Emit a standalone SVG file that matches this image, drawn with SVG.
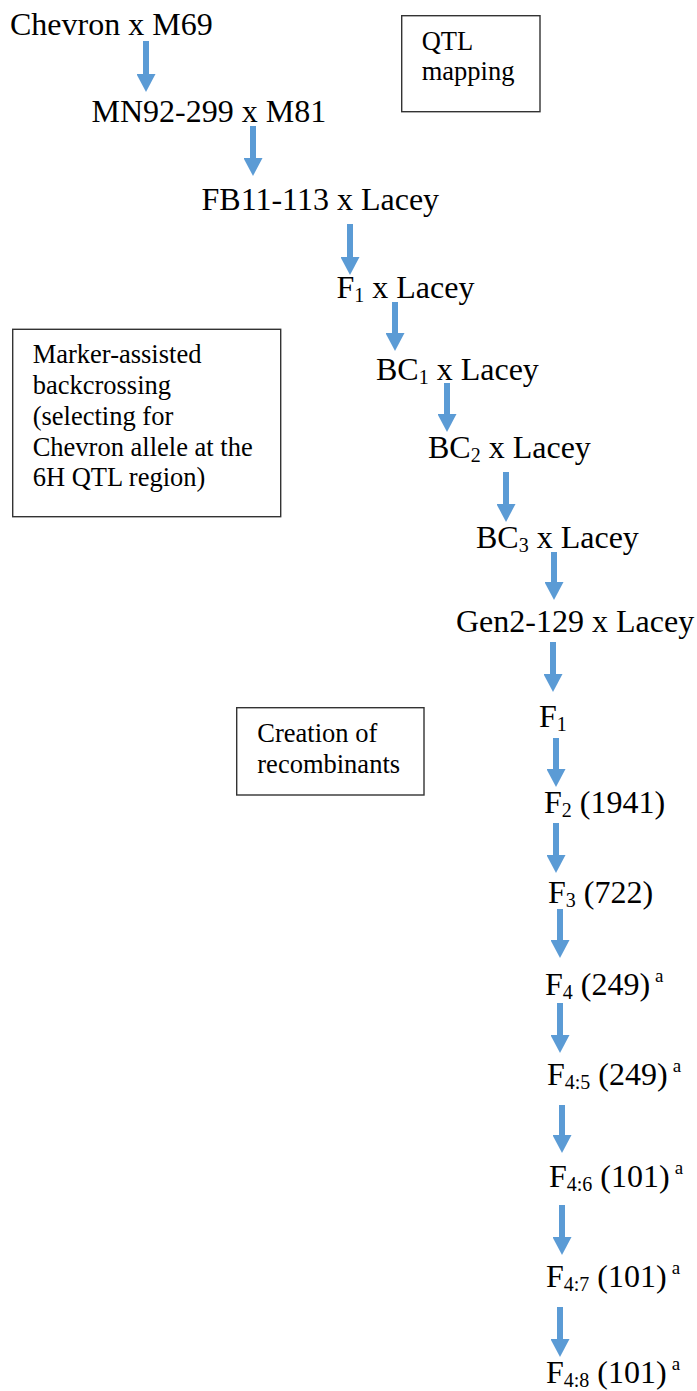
<svg xmlns="http://www.w3.org/2000/svg" width="697" height="1391" viewBox="0 0 697 1391">
<style>
text{font-family:"Liberation Serif","Times New Roman",serif;fill:#000}
.big{font-size:32px}
.small{font-size:26.5px}
.sub{font-size:20px}
.sup{font-size:19px}
.box{fill:#fff;stroke:#333;stroke-width:1.4}
.arr{stroke:#5B9BD5;stroke-width:6;fill:none}
</style>
<defs>
<marker id="head" markerUnits="userSpaceOnUse" viewBox="0 0 18 19" markerWidth="18" markerHeight="19" refX="0" refY="9.5" orient="auto">
<path d="M0,0 L18,9.5 L0,19 Z" fill="#5B9BD5"/>
</marker>
</defs>
<rect width="697" height="1391" fill="#fff"/>
<g id="connectors">
<line class="arr" x1="146" y1="41" x2="146" y2="74" marker-end="url(#head)"/>
<line class="arr" x1="253" y1="126" x2="253" y2="158" marker-end="url(#head)"/>
<line class="arr" x1="350" y1="224" x2="350" y2="257" marker-end="url(#head)"/>
<line class="arr" x1="395" y1="302" x2="395" y2="333" marker-end="url(#head)"/>
<line class="arr" x1="447" y1="383" x2="447" y2="414" marker-end="url(#head)"/>
<line class="arr" x1="506" y1="472" x2="506" y2="504" marker-end="url(#head)"/>
<line class="arr" x1="554" y1="552" x2="554" y2="582" marker-end="url(#head)"/>
<line class="arr" x1="553" y1="642" x2="553" y2="674" marker-end="url(#head)"/>
<line class="arr" x1="556" y1="738" x2="556" y2="769" marker-end="url(#head)"/>
<line class="arr" x1="556" y1="823" x2="556" y2="855" marker-end="url(#head)"/>
<line class="arr" x1="560" y1="909" x2="560" y2="940" marker-end="url(#head)"/>
<line class="arr" x1="560" y1="1003" x2="560" y2="1035" marker-end="url(#head)"/>
<line class="arr" x1="562" y1="1105" x2="562" y2="1135" marker-end="url(#head)"/>
<line class="arr" x1="562" y1="1205" x2="562" y2="1237" marker-end="url(#head)"/>
<line class="arr" x1="560" y1="1307" x2="560" y2="1339" marker-end="url(#head)"/>
</g>
<g id="n_chevron_m69"><text class="big" x="10" y="35">Chevron x M69</text></g>
<g id="n_mn92"><text class="big" x="91.5" y="122">MN92-299 x M81</text></g>
<g id="n_fb11"><text class="big" x="201.5" y="210">FB11-113 x Lacey</text></g>
<g id="n_f1_lacey"><text class="big" x="336.5" y="298">F<tspan class="sub" dy="4">1</tspan><tspan dy="-4"> x Lacey</tspan></text></g>
<g id="n_bc1"><text class="big" x="376" y="380">BC<tspan class="sub" dy="4">1</tspan><tspan dy="-4"> x Lacey</tspan></text></g>
<g id="n_bc2"><text class="big" x="428" y="458">BC<tspan class="sub" dy="4">2</tspan><tspan dy="-4"> x Lacey</tspan></text></g>
<g id="n_bc3"><text class="big" x="476" y="548">BC<tspan class="sub" dy="4">3</tspan><tspan dy="-4"> x Lacey</tspan></text></g>
<g id="n_gen2"><text class="big" x="456" y="632">Gen2-129 x Lacey</text></g>
<g id="n_f1"><text class="big" x="539" y="727">F<tspan class="sub" dy="4">1</tspan></text></g>
<g id="n_f2"><text class="big" x="544" y="813">F<tspan class="sub" dy="4">2</tspan><tspan dy="-4"> (1941)</tspan></text></g>
<g id="n_f3"><text class="big" x="548" y="903">F<tspan class="sub" dy="4">3</tspan><tspan dy="-4"> (722)</tspan></text></g>
<g id="n_f4"><text class="big" x="545" y="995">F<tspan class="sub" dy="4">4</tspan><tspan dy="-4"> (249)</tspan><tspan class="sup" dx="5" dy="-13">a</tspan></text></g>
<g id="n_f45"><text class="big" x="547" y="1085">F<tspan class="sub" dy="4">4:5</tspan><tspan dy="-4"> (249)</tspan><tspan class="sup" dx="5" dy="-13">a</tspan></text></g>
<g id="n_f46"><text class="big" x="549" y="1187">F<tspan class="sub" dy="4">4:6</tspan><tspan dy="-4"> (101)</tspan><tspan class="sup" dx="5" dy="-13">a</tspan></text></g>
<g id="n_f47"><text class="big" x="546" y="1287">F<tspan class="sub" dy="4">4:7</tspan><tspan dy="-4"> (101)</tspan><tspan class="sup" dx="5" dy="-13">a</tspan></text></g>
<g id="n_f48"><text class="big" x="546" y="1383">F<tspan class="sub" dy="4">4:8</tspan><tspan dy="-4"> (101)</tspan><tspan class="sup" dx="5" dy="-13">a</tspan></text></g>
<g id="box_qtl">
<rect class="box" x="401.7" y="15.7" width="138.3" height="96"/>
<text class="small" x="421.7" y="50">QTL</text>
<text class="small" x="421.7" y="80">mapping</text>
</g>
<g id="box_mab">
<rect class="box" x="12.7" y="329.3" width="268" height="187.4"/>
<text class="small" x="32.7" y="363">Marker-assisted</text>
<text class="small" x="32.7" y="394">backcrossing</text>
<text class="small" x="32.7" y="425">(selecting for</text>
<text class="small" x="32.7" y="456">Chevron allele at the</text>
<text class="small" x="32.7" y="486">6H QTL region)</text>
</g>
<g id="box_creation">
<rect class="box" x="236.7" y="707.7" width="187.3" height="87.3"/>
<text class="small" x="257.3" y="741.7">Creation of</text>
<text class="small" x="257.3" y="773.3">recombinants</text>
</g>
</svg>
